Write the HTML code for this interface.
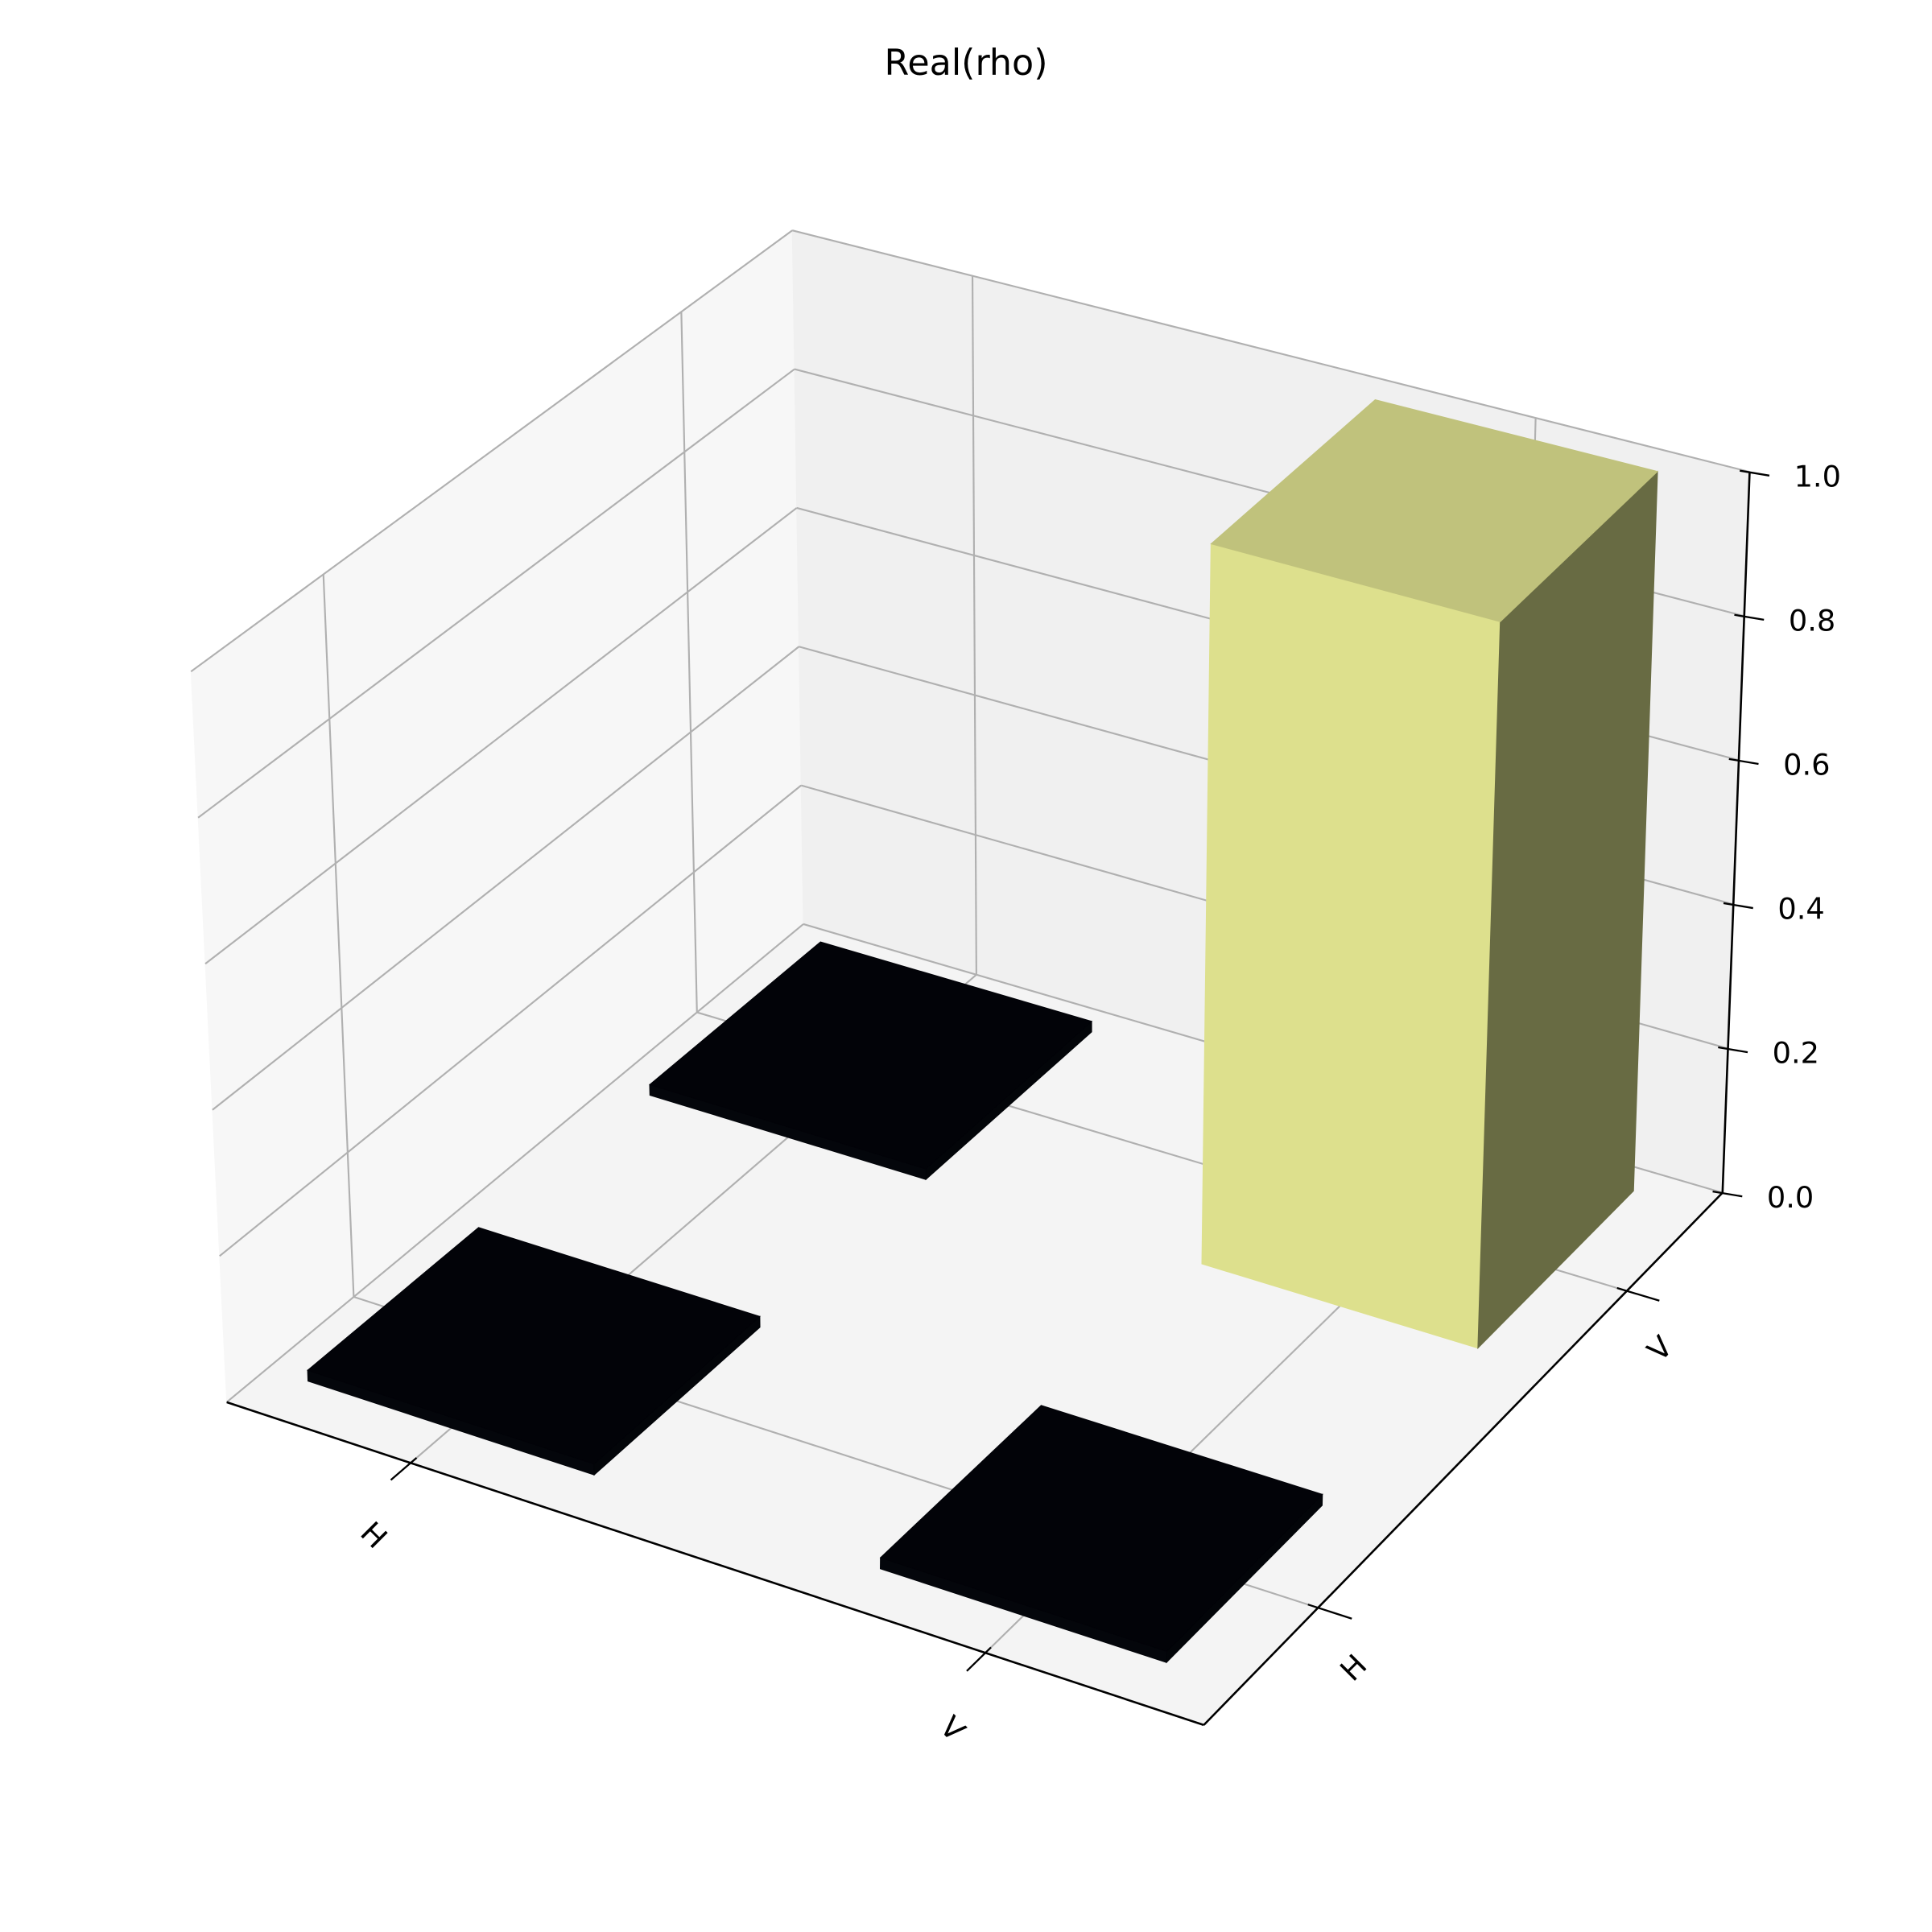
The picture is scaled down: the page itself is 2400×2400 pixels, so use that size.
<!DOCTYPE html>
<html><head><meta charset="utf-8"><style>
html,body{margin:0;padding:0;background:#fff;}
svg{display:block;}
text{font-family:"DejaVu Sans","Liberation Sans",sans-serif;}
</style></head>
<body>
<svg id="chart" width="2400" height="2400" viewBox="0 0 1568 1568" xmlns="http://www.w3.org/2000/svg">
<text x="784" y="53" font-size="29" text-anchor="middle" dominant-baseline="middle" fill="#000">Real(rho)</text>
<g id="panes"></g>
<g id="grid"></g>
<g id="bars"></g>
<g id="axes"></g>
</svg>
<script>
const xCategories = ["H", "V"];
const yCategories = ["H", "V"];
const barValues = [0, 0, 0, 1]; // row-major: [x=H,y=H],[x=V,y=H],[x=H,y=V],[x=V,y=V]
const zTicks = [0, 0.2, 0.4, 0.6, 0.8, 1.0];
const zTickLabels = ["0.0", "0.2", "0.4", "0.6", "0.8", "1.0"];

const NS = "http://www.w3.org/2000/svg";
const C0 = {A:[184,1138],B:[977,1400],C:[1398,968],D:[652,750]};
const C1 = {A:[155,545],B:[996,797],C:[1420,383],D:[643,187]};
const xMin=-0.32, xMax=1.38, yMin=-0.37, yMax=1.31, zMin=0, zMax=1;
function bil(c,u,v,i){return (1-u)*(1-v)*c.A[i]+u*(1-v)*c.B[i]+u*v*c.C[i]+(1-u)*v*c.D[i];}
function P(u,v,w){const r=[];for(let i=0;i<2;i++){r.push(bil(C0,u,v,i)*(1-w)+bil(C1,u,v,i)*w);}return r;}
function xs(x){return (x-xMin)/(xMax-xMin);}
function ys(y){return (y-yMin)/(yMax-yMin);}
function zs(z){return (z-zMin)/(zMax-zMin);}
function proj(x,y,z){return P(xs(x),ys(y),zs(z));}
function pts(arr){return arr.map(p=>p[0].toFixed(1)+","+p[1].toFixed(1)).join(" ");}
function poly(g,arr,fill,name){const e=document.createElementNS(NS,"polygon");e.setAttribute("points",pts(arr));e.setAttribute("fill",fill);e.setAttribute("stroke",fill);e.setAttribute("stroke-width","0.6");


g.appendChild(e);return e;}
function line(g,a,b,stroke,w,name){const e=document.createElementNS(NS,"line");e.setAttribute("x1",a[0]);e.setAttribute("y1",a[1]);e.setAttribute("x2",b[0]);e.setAttribute("y2",b[1]);e.setAttribute("stroke",stroke);e.setAttribute("stroke-width",w);


g.appendChild(e);return e;}
function text(g,p,s,size,rot,anchor,name){const e=document.createElementNS(NS,"text");e.setAttribute("x",p[0]);e.setAttribute("y",p[1]);e.setAttribute("font-size",size);e.setAttribute("text-anchor",anchor);e.setAttribute("dominant-baseline","middle");if(rot)e.setAttribute("transform","rotate("+rot+" "+p[0]+" "+p[1]+")");e.textContent=s;


g.appendChild(e);return e;}

const panes=document.getElementById("panes");
poly(panes,[P(0,0,0),P(0,1,0),P(0,1,1),P(0,0,1)],"#f7f7f7","left-pane");
poly(panes,[P(0,1,0),P(1,1,0),P(1,1,1),P(0,1,1)],"#f0f0f0","back-pane");
poly(panes,[P(0,0,0),P(1,0,0),P(1,1,0),P(0,1,0)],"#f4f4f4","floor-pane");

const grid=document.getElementById("grid");
const gc="#b0b0b0";
zTicks.forEach(z=>{const w=zs(z);
  line(grid,P(0,0,w),P(0,1,w),gc,1.4,"z-gridline-left");
  line(grid,P(0,1,w),P(1,1,w),gc,1.4,"z-gridline-back");});
xCategories.forEach((c,i)=>{const u=xs(i);
  line(grid,P(u,0,0),P(u,1,0),gc,1.4,"x-gridline-floor");
  line(grid,P(u,1,0),P(u,1,1),gc,1.4,"x-gridline-back");});
yCategories.forEach((c,j)=>{const v=ys(j);
  line(grid,P(0,v,0),P(1,v,0),gc,1.4,"y-gridline-floor");
  line(grid,P(0,v,0),P(0,v,1),gc,1.4,"y-gridline-left");});

const bars=document.getElementById("bars");
const bw=0.5, minH=0.015;
const order=[];
for(let j=0;j<yCategories.length;j++)for(let i=0;i<xCategories.length;i++){order.push({i,j,val:barValues[j*xCategories.length+i]});}
order.sort((a,b)=>((1-xs(b.i))+ys(b.j))-((1-xs(a.i))+ys(a.j)));
function colorsFor(val){return val>0.5?{top:"#c0c27c",front:"#dde08d",side:"#686b43"}:{top:"#020308",front:"#04060b",side:"#030509"};}
order.forEach(b=>{
  const x0=b.i-bw/2,x1=b.i+bw/2,y0=b.j-bw/2,y1=b.j+bw/2;
  const h=Math.max(b.val,minH);
  const col=colorsFor(b.val);
  const g=document.createElementNS(NS,"g");
  
  
  bars.appendChild(g);
  poly(g,[proj(x0,y0,0),proj(x1,y0,0),proj(x1,y0,h),proj(x0,y0,h)],col.front,"bar-front-face");
  poly(g,[proj(x1,y0,0),proj(x1,y1,0),proj(x1,y1,h),proj(x1,y0,h)],col.side,"bar-side-face");
  poly(g,[proj(x0,y0,h),proj(x1,y0,h),proj(x1,y1,h),proj(x0,y1,h)],col.top,"bar-top-face");
});

const axes=document.getElementById("axes");
line(axes,P(0,0,0),P(1,0,0),"#000",1.7,"x-axis-line");
line(axes,P(1,0,0),P(1,1,0),"#000",1.7,"y-axis-line");
line(axes,P(1,1,0),P(1,1,1),"#000",1.7,"z-axis-line");
xCategories.forEach((c,i)=>{const u=xs(i);const a=P(u,0,0),b=P(u,-0.035,0),t=P(u,-0.115,0);
  line(axes,[a[0]+(a[0]-b[0])*0.3,a[1]+(a[1]-b[1])*0.3],b,"#000",1.5,"x-tick");
  text(axes,[t[0]+22,t[1]+14],c,24,45,"middle","x-tick-label");});
yCategories.forEach((c,j)=>{const v=ys(j);const a=P(1,v,0),b=P(1.035,v,0),t=P(1.07,v,0);
  line(axes,[a[0]-(b[0]-a[0])*0.3,a[1]-(b[1]-a[1])*0.3],b,"#000",1.5,"y-tick");
  text(axes,[t[0]-25,t[1]+32],c,24,-45,"middle","y-tick-label");});
zTicks.forEach((z,k)=>{const w=zs(z);const a=P(1,1,w);
  line(axes,[a[0]-8,a[1]-1],[a[0]+16,a[1]+3],"#000",1.5,"z-tick");
  text(axes,[a[0]+36,a[1]+5],zTickLabels[k],24,0,"start","z-tick-label");});
</script>
</body></html>
